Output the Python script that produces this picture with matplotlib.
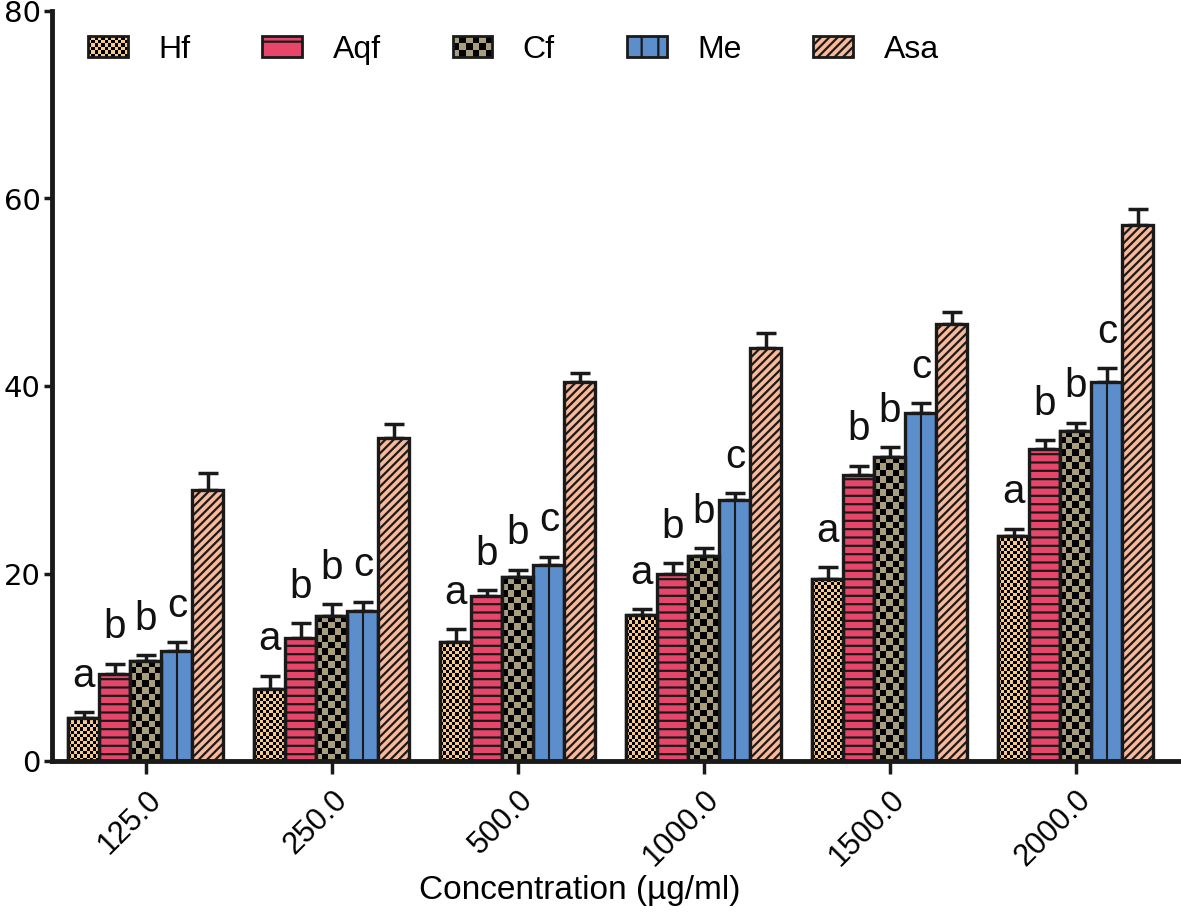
import numpy as np
import matplotlib
matplotlib.use('Agg')
import matplotlib.pyplot as plt
from matplotlib.colors import ListedColormap
from matplotlib.patches import Rectangle, Patch
from matplotlib.legend_handler import HandlerBase

plt.rcParams['font.family'] = ['Liberation Sans', 'DejaVu Sans']
plt.rcParams['hatch.linewidth'] = 1.6

# data
concentrations = ['125.0', '250.0', '500.0', '1000.0', '1500.0', '2000.0']
series = ['Hf', 'Aqf', 'Cf', 'Me', 'Asa']
hf = [4.6, 7.7, 12.7, 15.6, 19.4, 24.0]
hf_err = [0.6, 1.4, 1.4, 0.6, 1.3, 0.8]
aqf = [9.3, 13.1, 17.6, 19.9, 30.5, 33.3]
aqf_err = [1.1, 1.6, 0.6, 1.2, 1.0, 0.9]
cf = [10.7, 15.5, 19.6, 21.9, 32.4, 35.2]
cf_err = [0.6, 1.2, 0.8, 0.8, 1.1, 0.9]
me = [11.7, 16.0, 20.9, 27.8, 37.1, 40.4]
me_err = [1.0, 1.0, 0.9, 0.8, 1.1, 1.5]
asa = [28.9, 34.4, 40.4, 44.1, 46.6, 57.2]
asa_err = [1.8, 1.5, 1.0, 1.5, 1.3, 1.7]
letters = ['a', 'b', 'b', 'c', '']

means = [hf, aqf, cf, me, asa]
errs = [hf_err, aqf_err, cf_err, me_err, asa_err]
fills = ['#F6C98B', '#E8456A', '#A89E7E', '#5B8ECB', '#F8B89A']
hatches = [None, '--', None, None, '////']
checker_px = {0: 3.2, 2: 6.5}   # checker square size (px) for Hf and Cf
EDGE = '#1a1a1a'

W, H = 1181, 921
fig = plt.figure(figsize=(W / 100, H / 100), dpi=100)
ax = fig.add_axes([52 / W, 160 / H, 1128 / W, 750 / H])
ax.set_xlim(-0.505, 5.56)
ax.set_ylim(0, 80)
px_x = 1128 / (5.56 + 0.505)
px_y = 750 / 80

x = np.arange(len(concentrations))
w = 1 / 6
for i in range(5):
    pos = x + (i - 2) * w
    ax.errorbar(pos, means[i], yerr=[np.zeros(len(pos)), errs[i]], fmt='none',
                ecolor=EDGE, elinewidth=2.5, capsize=7, capthick=2.5, zorder=1)
    bars = ax.bar(pos, means[i], w, color=fills[i], hatch=hatches[i],
                  edgecolor=EDGE, linewidth=2.4, zorder=2)
    if i in checker_px:
        cmap = ListedColormap([fills[i], 'black'])
        for b in bars:
            bx, bw, bh = b.get_x(), b.get_width(), b.get_height()
            ncol = max(1, int(round(bw * px_x / checker_px[i])))
            nrow = max(1, int(round(bh * px_y / checker_px[i])))
            pat = np.add.outer(np.arange(nrow), np.arange(ncol)) % 2
            im = ax.imshow(pat, cmap=cmap, extent=[bx, bx + bw, 0, bh], origin='lower',
                           aspect='auto', interpolation='nearest', zorder=2.5)
            im.set_clip_path(b)
        ax.bar(pos, means[i], w, fill=False, edgecolor=EDGE, linewidth=2.4, zorder=3)
    if i == 3:
        ax.vlines(pos, 0, means[i], colors=EDGE, linewidth=1.5, zorder=3)
    if letters[i]:
        for p, m, e in zip(pos, means[i], errs[i]):
            ax.text(p, m + e + 2.7, letters[i], ha='center', va='baseline',
                    fontsize=29, color='#111111')

ax.set_xlim(-0.505, 5.56)
ax.set_ylim(0, 80)

for s in ['top', 'right']:
    ax.spines[s].set_visible(False)
for s in ['left', 'bottom']:
    ax.spines[s].set_linewidth(3.5)
    ax.spines[s].set_color(EDGE)
    ax.spines[s].set_zorder(4)

ax.set_yticks([0, 20, 40, 60, 80])
ax.tick_params(axis='y', direction='out', length=6, width=2.5, labelsize=21, pad=2, color=EDGE)
ax.tick_params(axis='x', direction='out', length=9, width=2.5, labelsize=22, pad=8, color=EDGE)
for lbl in ax.get_yticklabels():
    lbl.set_fontfamily('DejaVu Sans')
ax.set_xticks(x, concentrations, rotation=45, ha='right', rotation_mode='anchor')

ax.set_xlabel('Concentration (µg/ml)', fontsize=24)
ax.xaxis.set_label_coords(0.468, -0.152)


class CheckerHandler(HandlerBase):
    def __init__(self, fill, nx, ny):
        super().__init__()
        self.fill, self.nx, self.ny = fill, nx, ny

    def create_artists(self, legend, orig_handle, xdescent, ydescent, width, height,
                       fontsize, trans):
        x0, y0 = -xdescent, -ydescent
        arts = [Rectangle((x0, y0), width, height, facecolor=self.fill,
                          edgecolor='none', transform=trans)]
        cw, ch = width / self.nx, height / self.ny
        for r in range(self.ny):
            for c in range(self.nx):
                if (r + c) % 2:
                    arts.append(Rectangle((x0 + c * cw, y0 + r * ch), cw, ch,
                                          facecolor='black', edgecolor='none',
                                          transform=trans))
        arts.append(Rectangle((x0, y0), width, height, fill=False, edgecolor=EDGE,
                              linewidth=2, transform=trans))
        return arts


handles = [Patch(facecolor=fills[0], edgecolor=EDGE),
           Patch(facecolor=fills[1], edgecolor=EDGE, hatch='-', linewidth=2),
           Patch(facecolor=fills[2], edgecolor=EDGE),
           Patch(facecolor=fills[3], edgecolor=EDGE, hatch='|', linewidth=2),
           Patch(facecolor=fills[4], edgecolor=EDGE, hatch='////', linewidth=2)]
hmap = {handles[0]: CheckerHandler(fills[0], 12, 6),
        handles[2]: CheckerHandler(fills[2], 6, 3)}
fig.legend(handles, series, handler_map=hmap, loc='center left',
           bbox_to_anchor=(88 / W, 1 - 50 / H), ncol=5, frameon=False, fontsize=23,
           handlelength=1.25, handleheight=0.62, handletextpad=0.95, columnspacing=2.25,
           borderpad=0, borderaxespad=0)

fig.savefig('out.png', dpi=100)
